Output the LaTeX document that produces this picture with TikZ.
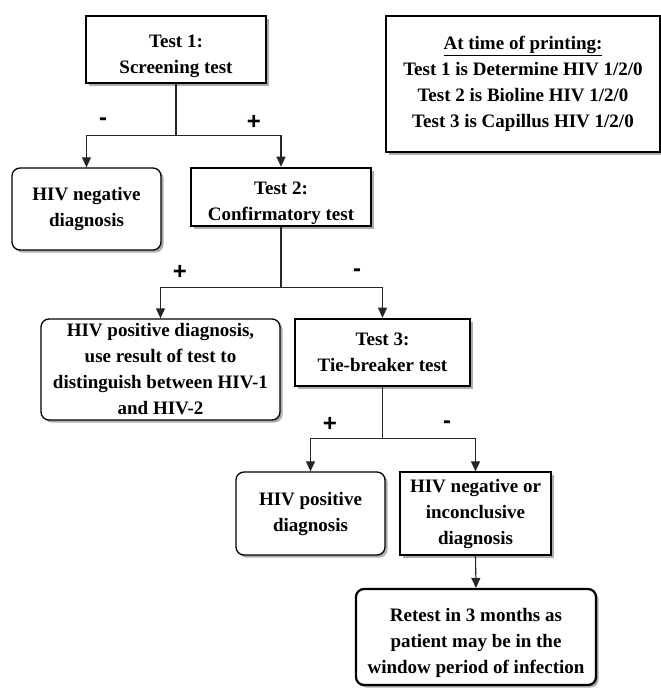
\documentclass[tikz,border=0pt]{standalone}
\usepackage{fontspec}
\setmainfont{Liberation Serif}
\setsansfont{Liberation Sans}
\usetikzlibrary{shadows,arrows.meta}
% tall strut that lowers the first line of a box label
\newcommand{\lowstrut}{\rule{0pt}{26pt}}
\begin{document}
\begin{tikzpicture}[x=1pt,y=1pt,
  every node/.style={font=\bfseries\fontsize{19}{26}\selectfont, align=center, inner sep=0pt},
  boxbase/.style={draw=black, fill=white, minimum width=#1, text=black,
    drop shadow={shadow xshift=2.5pt, shadow yshift=-2.5pt, fill=black!45, opacity=0.7}},
  testbox/.style={boxbase=#1, line width=2.6pt},
  outbox/.style={boxbase=#1, line width=1.3pt, rounded corners=8pt},
  plainbox/.style={boxbase=#1, line width=1.3pt},
  retestbox/.style={boxbase=#1, line width=2.2pt, rounded corners=8pt},
  link/.style={line width=1.1pt, draw=black!85},
  arr/.style={link, -{Triangle[length=10pt,width=9pt]}},
  sign/.style={font=\sffamily\bfseries\fontsize{24}{24}\selectfont}
]
\useasboundingbox (0,0) rectangle (661,-688);

% decision tests
\node[testbox=180, minimum height=67] (t1) at (176,-49.5) {\lowstrut Test 1:\\Screening test};
\node[testbox=180, minimum height=58] (t2) at (281,-197) {\lowstrut Test 2:\\Confirmatory test};
\node[testbox=175, minimum height=67] (t3) at (382.5,-352.5) {Test 3:\\Tie-breaker test};

% information panel
\node[plainbox=274, minimum height=136] (info) at (523,-84)
  {\underline{At time of printing:}\\Test 1 is Determine HIV 1/2/0\\Test 2 is Bioline HIV 1/2/0\\Test 3 is Capillus HIV 1/2/0};

% outcomes
\node[outbox=149, minimum height=82] (neg1) at (86.5,-209) {HIV negative\\diagnosis};
\node[outbox=239, minimum height=101] (pos1) at (160.5,-369.5)
  {HIV positive diagnosis,\\use result of test to\\distinguish between HIV-1\\and HIV-2};
\node[outbox=149, minimum height=83] (pos2) at (310.5,-513.5) {HIV positive\\diagnosis};
\node[plainbox=151, minimum height=83] (neg2) at (475.5,-513.5) {HIV negative or\\inconclusive\\diagnosis};
\node[retestbox=240, minimum height=96] (re) at (476,-637)
  {\lowstrut Retest in 3 months as\\patient may be in the\\window period of infection};

% branches from test 1
\draw[link] (t1.south) -- ++(0,-51) coordinate (j1);
\draw[arr] (j1) -| (neg1.north);
\draw[arr] (j1) -| (t2.north);
\node[sign] (s1) at (103,-122) {-};
\node[sign] (s2) at (254,-122) {+};

% branches from test 2
\draw[link] (t2.south) -- ++(0,-60) coordinate (j2);
\draw[arr] (j2) -| (pos1.north);
\draw[arr] (j2) -| (t3.north);
\node[sign] (s3) at (180,-272) {+};
\node[sign] (s4) at (357,-273) {-};

% branches from test 3
\draw[link] (t3.south) -- ++(0,-51) coordinate (j3);
\draw[arr] (j3) -| (pos2.north);
\draw[arr] (j3) -| (neg2.north);
\node[sign] (s5) at (330,-424) {+};
\node[sign] (s6) at (447,-425) {-};

% follow-up
\draw[arr] (neg2.south) -- (re.north);
\end{tikzpicture}
\end{document}
